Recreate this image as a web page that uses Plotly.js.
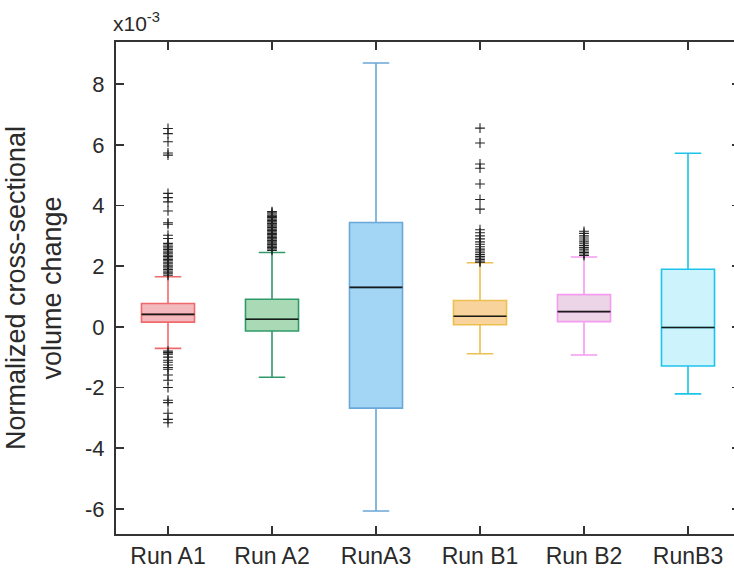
<!DOCTYPE html>
<html>
<head>
<meta charset="utf-8">
<script src="https://cdn.plot.ly/plotly-3.0.1.min.js"></script>
<style>
html, body { margin: 0; padding: 0; overflow: hidden; background: #fff; }
</style>
</head>
<body>
<div id="chart"></div>
<script>
// values in units of 1e-3
var runs = ['Run A1', 'Run A2', 'RunA3', 'Run B1', 'Run B2', 'RunB3'];
var lowerFence = [-0.71, -1.66, -6.07, -0.89, -0.93, -2.21];
var q1 = [0.155, -0.14, -2.68, 0.07, 0.17, -1.29];
var median = [0.41, 0.25, 1.30, 0.35, 0.50, -0.02];
var q3 = [0.77, 0.91, 3.44, 0.87, 1.06, 1.90];
var upperFence = [1.65, 2.45, 8.70, 2.11, 2.30, 5.72];

var outA1 = [6.54, 6.37, 6.1, 5.73, 5.66, 4.4, 4.26, 4.12, 3.82, 3.43, 3.38, 3.02, 2.91,
    2.75, 2.7, 2.64, 2.6, 2.55, 2.5, 2.46, 2.41, 2.36, 2.32, 2.27, 2.22, 2.18, 2.13,
    2.08, 2.03, 1.98, 1.94, 1.89, 1.84, 1.8, 1.75, 1.7,
    -0.8, -0.85, -0.9, -1.0, -1.1, -1.17, -1.26, -1.34, -1.4, -1.59, -1.76, -2.0,
    -2.42, -2.5, -2.85, -3.05, -3.16];
var outA2 = [3.8, 3.76, 3.72, 3.68, 3.64, 3.6, 3.55, 3.5, 3.46, 3.41, 3.36, 3.32, 3.27,
    3.22, 3.18, 3.13, 3.08, 3.04, 2.99, 2.94, 2.9, 2.85, 2.8, 2.76, 2.71, 2.66, 2.62,
    2.57, 2.52];
var outA3 = [];
var outB1 = [6.55, 6.06, 5.37, 5.23, 4.71, 4.2, 3.88, 3.2, 3.1, 3.0, 2.9, 2.8, 2.72,
    2.64, 2.56, 2.5, 2.44, 2.38, 2.32, 2.27, 2.22, 2.17, 2.13];
var outB2 = [3.15, 3.08, 3.0, 2.93, 2.86, 2.8, 2.74, 2.68, 2.62, 2.56, 2.5, 2.45, 2.4, 2.35];
var outB3 = [];

var yTickVals = [-6, -4, -2, 0, 2, 4, 6, 8];
var yTickText = ['-6', '-4', '-2', '0', '2', '4', '6', '8'];

var lineColors = ['#f06a6c', '#2e9a68', '#6aa8d8', '#ecbf50', '#f39cf0', '#1cc4ec'];
var fillColors = ['#f4b9bd', '#a9dab5', '#a3d5f5', '#f8d49c', '#ecd5e6', '#cdf4fc'];

var outliers = [outA1, outA2, outA3, outB1, outB2, outB3];

var traces = [];
for (var i = 0; i < runs.length; i++)
{
    traces.push({
        type: 'box',
        x: [runs[i]],
        q1: [q1[i]],
        median: [median[i]],
        q3: [q3[i]],
        lowerfence: [lowerFence[i]],
        upperfence: [upperFence[i]],
        width: 0.51,
        whiskerwidth: 0.5,
        line: {color: lineColors[i], width: 1.6},
        fillcolor: fillColors[i],
        boxpoints: false,
        hoverinfo: 'skip',
        showlegend: false
    });
}

// black median lines drawn as flat boxes
traces.push({
    type: 'box',
    x: runs,
    q1: median,
    median: median,
    q3: median,
    lowerfence: median,
    upperfence: median,
    width: 0.51,
    whiskerwidth: 0,
    line: {color: '#1a1a1a', width: 1.6},
    fillcolor: 'rgba(0,0,0,0)',
    boxpoints: false,
    hoverinfo: 'skip',
    showlegend: false
});

var ox = [];
var oy = [];
for (i = 0; i < runs.length; i++)
{
    for (var j = 0; j < outliers[i].length; j++)
    {
        ox.push(runs[i]);
        oy.push(outliers[i][j]);
    }
}
traces.push({
    type: 'scatter',
    mode: 'markers',
    x: ox,
    y: oy,
    marker: {symbol: 'cross-thin', size: 7, line: {color: '#222222', width: 1.1}},
    hoverinfo: 'skip',
    showlegend: false
});

var layout =
{
    width: 742,
    height: 571,
    paper_bgcolor: '#ffffff',
    plot_bgcolor: '#ffffff',
    font: {family: 'Arial, "Liberation Sans", sans-serif', color: '#2a2a2a'},
    margin: {l: 116, r: 2, t: 42, b: 37},
    boxmode: 'overlay',
    xaxis: {
        type: 'category',
        range: [-0.5, 5.5],
        showline: true, linecolor: '#333333', linewidth: 2,
        mirror: 'ticks',
        ticks: 'inside', ticklen: 8, tickwidth: 1.5, tickcolor: '#333333',
        showgrid: false, zeroline: false,
        tickfont: {size: 23, color: '#2a2a2a'}
    },
    yaxis: {
        range: [-6.83, 9.39],
        tickvals: yTickVals,
        ticktext: yTickText,
        showline: true, linecolor: '#333333', linewidth: 2,
        mirror: 'ticks',
        ticks: 'inside', ticklen: 8, tickwidth: 1.5, tickcolor: '#333333',
        ticklabelstandoff: 5,
        showgrid: false, zeroline: false,
        tickfont: {size: 22, color: '#2a2a2a'},
        title: {text: 'Normalized cross-sectional<br>volume change', font: {size: 27, color: '#2a2a2a'}, standoff: 16}
    },
    annotations: [{
        text: 'x10<sup>-3</sup>',
        xref: 'paper', yref: 'paper',
        x: 0, y: 1, xanchor: 'left', yanchor: 'bottom',
        xshift: -5, yshift: 5,
        showarrow: false,
        font: {size: 21, color: '#2a2a2a'}
    }]
};

Plotly.newPlot('chart', traces, layout, {displayModeBar: false, staticPlot: true});
</script>
</body>
</html>
